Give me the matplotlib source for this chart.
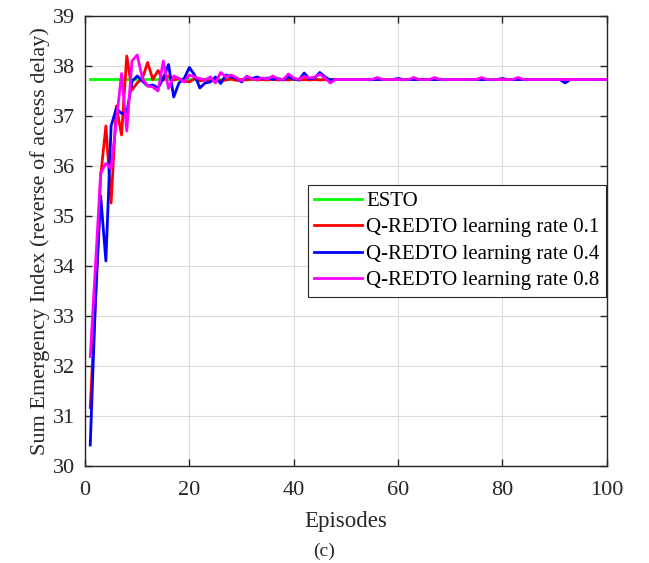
import numpy as np
import matplotlib
matplotlib.use("Agg")
import matplotlib.pyplot as plt

plt.rcParams['font.family'] = ['Liberation Serif', 'DejaVu Serif']
plt.rcParams['mathtext.fontset'] = 'stix'

episodes = list(range(1, 101))
esto_value = 37.73

red_head = [31.17, 33.3, 35.8, 36.8, 35.26, 37.2, 36.62, 38.2, 37.52, 37.66,
            37.75, 38.07, 37.73, 37.91, 37.72, 37.8, 37.72, 37.75, 37.7, 37.68,
            37.75, 37.7, 37.72, 37.7, 37.74, 37.7, 37.72, 37.74, 37.71, 37.73,
            37.72, 37.74, 37.72, 37.73, 37.72, 37.74, 37.72, 37.73, 37.72, 37.74,
            37.72, 37.73, 37.72, 37.73, 37.72, 37.73, 37.72]
blue_head = [30.42, 33.3, 35.4, 34.1, 36.8, 37.15, 37.05, 37.05, 37.69, 37.8,
             37.7, 37.6, 37.62, 37.56, 37.75, 38.03, 37.38, 37.66, 37.75, 37.97,
             37.82, 37.56, 37.66, 37.68, 37.78, 37.65, 37.82, 37.78, 37.76, 37.68,
             37.78, 37.75, 37.78, 37.74, 37.76, 37.73, 37.75, 37.72, 37.78, 37.74,
             37.72, 37.86, 37.74, 37.76, 37.87, 37.78, 37.72]
magenta_head = [32.19, 34.0, 35.86, 36.05, 35.95, 36.9, 37.85, 36.7, 38.1, 38.22,
                37.75, 37.6, 37.58, 37.5, 38.1, 37.55, 37.8, 37.75, 37.68, 37.82,
                37.78, 37.75, 37.72, 37.78, 37.66, 37.87, 37.78, 37.82, 37.77, 37.7,
                37.8, 37.74, 37.73, 37.76, 37.74, 37.8, 37.74, 37.73, 37.84, 37.76,
                37.73, 37.79, 37.76, 37.78, 37.83, 37.76, 37.66]

tail = [37.73] * 53
red = red_head + tail
blue = blue_head + tail
magenta = magenta_head + list(tail)
blue = list(blue)
magenta = list(magenta)
# small deviations in the converged tail
blue[91] = 37.66
blue[59] = 37.75
blue[79] = 37.75
for ep in [56, 63, 67, 76, 83]:
    magenta[ep - 1] = 37.77

esto = [esto_value] * len(episodes)

fig = plt.figure(figsize=(6.49, 5.63), dpi=100)
ax = fig.add_axes([0.131, 0.1723, 0.804, 0.7993])

ax.plot(episodes, esto, color='#00ff00', lw=2, label='ESTO')
ax.plot(episodes, red, color='#ff0000', lw=2, label='Q-REDTO learning rate 0.1')
ax.plot(episodes, blue, color='#0000ff', lw=2, label='Q-REDTO learning rate 0.4')
ax.plot(episodes, magenta, color='#ff00ff', lw=2, label='Q-REDTO learning rate 0.8')

ax.set_xlim(0, 100)
ax.set_ylim(30, 39)
ax.set_xticks([0, 20, 40, 60, 80, 100])
ax.set_yticks(range(30, 40))
ax.grid(True, color='#dcdcdc', lw=0.8)
ax.set_axisbelow(True)
ax.tick_params(direction='in', top=True, right=True, labelsize=16, length=5, width=1, colors='#262626')
ax.tick_params(axis='x', pad=11)
ax.tick_params(axis='y', pad=7.5)
for s in ax.spines.values():
    s.set_color('#262626')
    s.set_linewidth(1)

ax.set_xlabel('Episodes', fontsize=16.5, color='#262626', labelpad=8)
ax.set_ylabel('Sum Emergency Index (reverse of access delay)', fontsize=16, color='#262626', labelpad=2)

leg = ax.legend(loc='upper right', bbox_to_anchor=(0.998, 0.624), fontsize=15,
                frameon=True, fancybox=False, edgecolor='#262626', framealpha=1,
                handlelength=2.3, handletextpad=0.2, borderpad=0.3, labelspacing=0.33,
                borderaxespad=0)
leg.get_frame().set_linewidth(0.8)

fig.text(0.5, 0.021, '(c)', ha='center', va='center', fontsize=14, color='#262626')

fig.savefig('out.png', dpi=100)
